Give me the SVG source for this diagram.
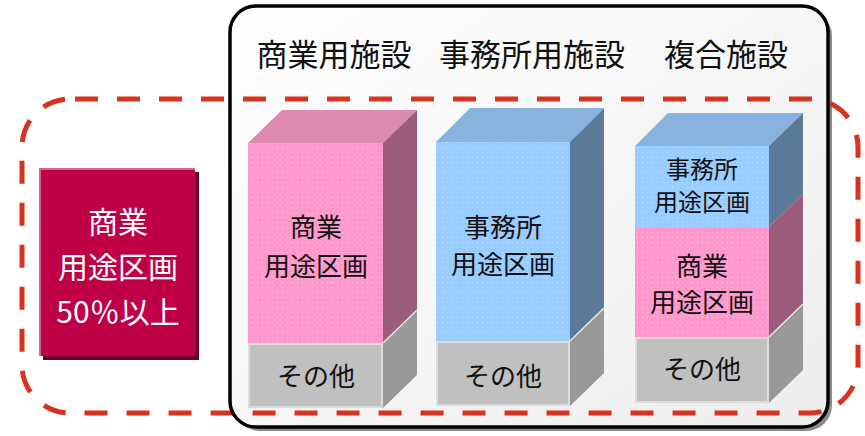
<svg xmlns="http://www.w3.org/2000/svg" width="865" height="436" viewBox="0 0 865 436">
<defs>
<linearGradient id="panelGrad" x1="0" y1="0" x2="1" y2="1">
<stop offset="0" stop-color="#ffffff"/>
<stop offset="1" stop-color="#ededed"/>
</linearGradient>
<pattern id="dots" width="5" height="5" patternUnits="userSpaceOnUse">
<circle cx="2.5" cy="2.5" r="0.6" fill="#ffffff" fill-opacity="0.45"/>
</pattern>
<style>
text{font-family:"Noto Sans CJK JP","Noto Sans CJK SC",sans-serif;text-anchor:middle;dominant-baseline:central}
.hdr{font-size:31px;fill:#111}
.lbl{font-size:26px;fill:#111}
.slbl{font-size:24px;fill:#111}
.wlbl{font-size:30px;fill:#fff}
.pinkF{fill:#ff99cc}
.pinkT{fill:#de89b2}
.pinkR{fill:#9b5c7c}
.blueF{fill:#99ccff}
.blueT{fill:#88b3df}
.blueR{fill:#5b7a99}
.grayF{fill:#c0c0c0;stroke:#dcdcdc;stroke-width:2}
.grayR{fill:#989898}
.edge{stroke:#e6e6e6;stroke-width:1.5;fill:none}
.dot{fill:url(#dots)}
</style>
</defs>

<g id="panel">
<rect x="234" y="10" width="598" height="421" rx="26" fill="#8a8a8a"/>
<rect x="230" y="6" width="598" height="421" rx="26" fill="url(#panelGrad)"/>
</g>

<g id="headers">
<text class="hdr" x="334" y="52">商業用施設</text>
<text class="hdr" x="532" y="52">事務所用施設</text>
<text class="hdr" x="726" y="52">複合施設</text>
</g>

<g id="box-commercial">
<polygon class="pinkT" points="248,143 282,110 417,110 383,143"/>
<polygon class="pinkR" points="383,143 417,110 417,310 383,343"/>
<rect class="pinkF" x="248" y="143" width="135" height="200"/>
<rect class="dot" x="248" y="143" width="135" height="200"/>
<polygon class="grayR" points="383,343 417,310 417,375 383,408"/>
<line class="edge" x1="383" y1="343" x2="417" y2="310"/>
<rect class="grayF" x="249" y="344" width="133" height="63"/>
<text class="lbl" x="316" y="225">商業</text>
<text class="lbl" x="316" y="264">用途区画</text>
<text class="lbl" x="316" y="374">その他</text>
</g>

<g id="box-office">
<polygon class="blueT" points="436,142 470,108 604,108 570,142"/>
<polygon class="blueR" points="570,142 604,108 604,308 570,341"/>
<rect class="blueF" x="436" y="142" width="134" height="199"/>
<rect class="dot" x="436" y="142" width="134" height="199"/>
<polygon class="grayR" points="570,341 604,308 604,373 570,406"/>
<line class="edge" x1="570" y1="341" x2="604" y2="308"/>
<rect class="grayF" x="437" y="342" width="132" height="63"/>
<text class="lbl" x="503" y="225">事務所</text>
<text class="lbl" x="503" y="262">用途区画</text>
<text class="lbl" x="503" y="374">その他</text>
</g>

<g id="box-mixed">
<polygon class="blueT" points="635,146 668,113 803,113 769,146"/>
<polygon class="blueR" points="769,146 803,113 803,194 769,227"/>
<polygon class="pinkR" points="769,227 803,194 803,304 769,337"/>
<rect class="blueF" x="635" y="146" width="134" height="81"/>
<rect class="pinkF" x="635" y="227" width="134" height="110"/>
<rect class="dot" x="635" y="146" width="134" height="191"/>
<polygon class="grayR" points="769,337 803,304 803,370 769,403"/>
<line class="edge" x1="769" y1="337" x2="803" y2="304"/>
<rect class="grayF" x="636" y="338" width="132" height="64"/>
<text class="slbl" x="702" y="167">事務所</text>
<text class="slbl" x="702" y="200">用途区画</text>
<text class="lbl" x="702" y="264">商業</text>
<text class="lbl" x="702" y="300">用途区画</text>
<text class="lbl" x="702" y="367">その他</text>
</g>

<g id="connectors">
<rect x="22" y="99" width="836" height="314" rx="48" fill="none" stroke="#d9321e" stroke-width="5" stroke-dasharray="23 19" stroke-dashoffset="-5"/>
</g>

<g id="panel-border">
<rect x="230" y="6" width="598" height="421" rx="26" fill="none" stroke="#000" stroke-width="3.5"/>
</g>

<g id="condition">
<rect x="43" y="172" width="156" height="188" fill="#6a002c"/>
<rect x="39" y="168" width="156" height="188" fill="#bf0047"/>
<path d="M40,356 V169 H195" fill="none" stroke="#d6629a" stroke-width="2"/>
<text class="wlbl" x="118" y="220">商業</text>
<text class="wlbl" x="118" y="265">用途区画</text>
<text class="wlbl" x="118" y="310">50％以上</text>
</g>
</svg>
